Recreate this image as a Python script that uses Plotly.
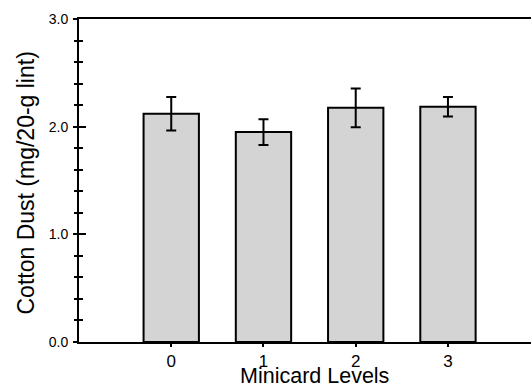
import plotly.graph_objects as go

levels = [0, 1, 2, 3]
dust = [2.12, 1.95, 2.175, 2.185]
err = [0.155, 0.12, 0.18, 0.09]
ytick_vals = [0, 1, 2, 3]
ytick_text = ["0.0", "1.0", "2.0", "3.0"]
x_title = "Minicard Levels"
y_title = "Cotton Dust (mg/20-g lint)"

font = "Liberation Sans, Arial, sans-serif"

fig = go.Figure()
fig.add_trace(go.Bar(
    x=levels, y=dust, width=0.6,
    marker=dict(color="#d4d4d4", line=dict(color="black", width=2)),
    error_y=dict(type="data", array=err, color="black", thickness=2, width=5),
    showlegend=False, hoverinfo="skip",
))
fig.add_trace(go.Scatter(x=[None], y=[None], yaxis="y2", showlegend=False, hoverinfo="skip"))

# figure is a bit wider than the 531 px window, so the plot frame runs off the right edge
fig.update_layout(
    width=545, height=384,
    margin=dict(l=79, r=0, t=19, b=42),
    paper_bgcolor="white", plot_bgcolor="white",
    font=dict(family=font, color="black"),
    xaxis=dict(
        range=[-1, 4.052], tickvals=levels, ticktext=[str(v) for v in levels],
        ticks="outside", ticklen=3, tickwidth=2, tickcolor="black",
        showline=True, linecolor="black", linewidth=2, mirror=True,
        showgrid=False, zeroline=False,
        tickfont=dict(size=17, family=font),
        automargin=False,
    ),
    yaxis=dict(
        range=[0, 3], tickvals=ytick_vals, ticktext=ytick_text,
        ticks="outside", ticklen=4, tickwidth=2, tickcolor="black",
        minor=dict(dtick=0.2, ticks="outside", ticklen=3, tickwidth=2, tickcolor="black"),
        showline=True, linecolor="black", linewidth=2, mirror=False,
        showgrid=False, zeroline=False,
        tickfont=dict(size=14, family=font),
        ticklabelstandoff=2,
        automargin=False,
    ),
    yaxis2=dict(
        range=[0, 3], overlaying="y", side="left", anchor="x",
        tickvals=ytick_vals, showticklabels=False,
        ticks="inside", ticklen=7, tickwidth=2, tickcolor="black",
        minor=dict(dtick=0.2, ticks="inside", ticklen=4, tickwidth=2, tickcolor="black"),
        showline=False, showgrid=False, zeroline=False,
    ),
    annotations=[
        dict(text=x_title, xref="paper", yref="paper", x=0.5054, y=0,
             xanchor="center", yanchor="middle", yshift=-34, showarrow=False,
             font=dict(size=21.5, family=font, color="black")),
        dict(text=y_title, xref="paper", yref="paper", x=0, y=0.5,
             xanchor="center", yanchor="middle", xshift=-54, yshift=-3,
             textangle=-90, showarrow=False,
             font=dict(size=23, family=font, color="black")),
    ],
)

fig.write_html(
    "out.html", config={"displayModeBar": False},
    post_script=("document.documentElement.style.overflow='hidden';"
                 "document.body.style.margin='0';document.body.style.overflow='hidden';"),
)
